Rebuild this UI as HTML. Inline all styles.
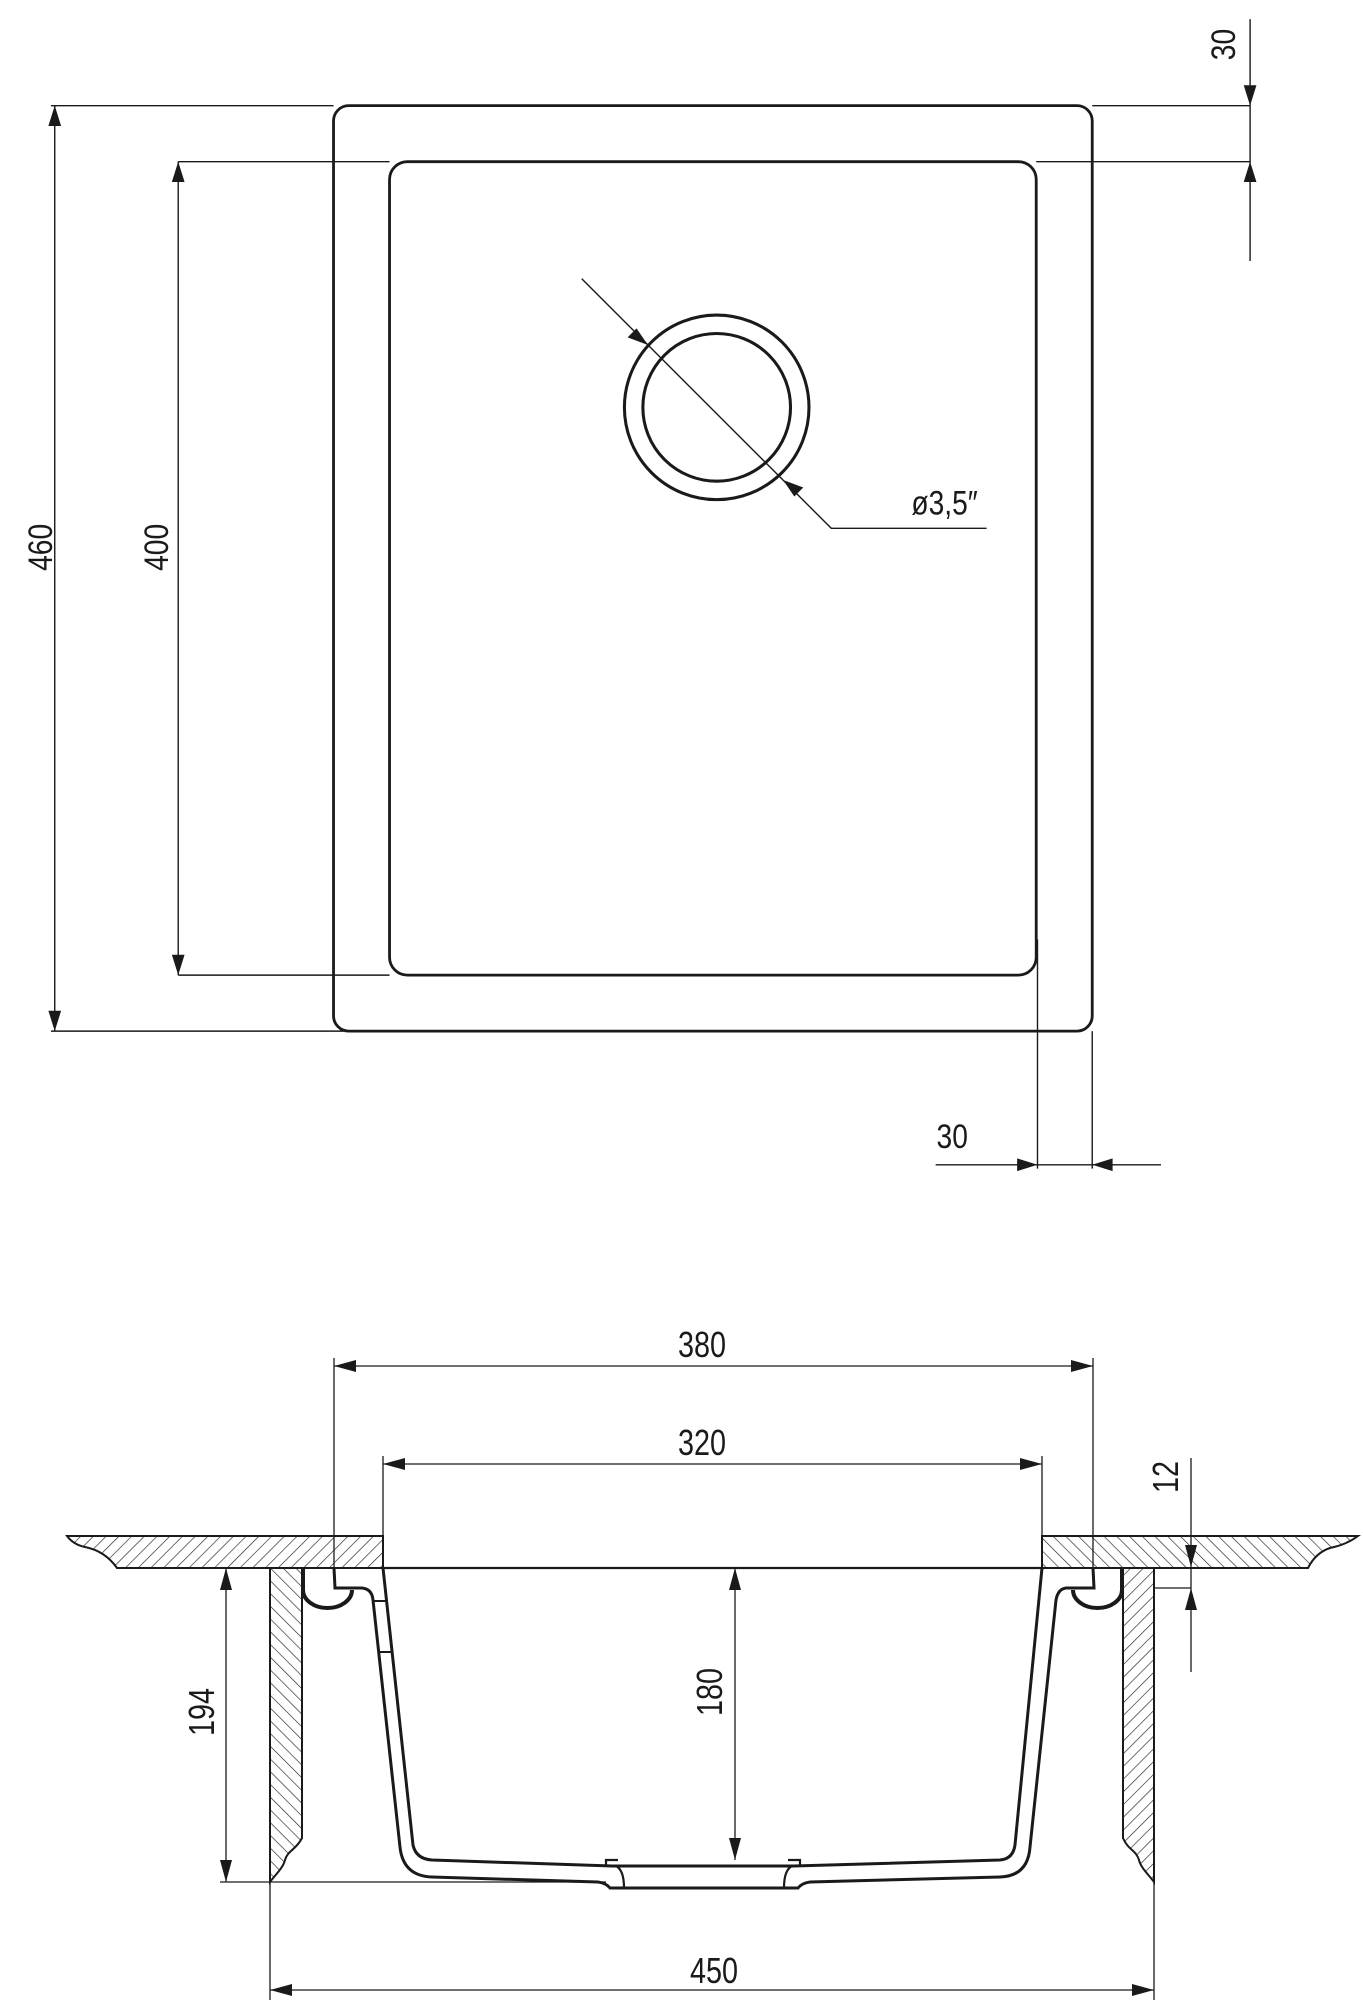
<!DOCTYPE html>
<html><head><meta charset="utf-8"><style>html,body{margin:0;padding:0;background:#fff}svg{display:block}</style></head>
<body>
<svg width="1363" height="2000" viewBox="0 0 1363 2000" xmlns="http://www.w3.org/2000/svg">
<defs>
<pattern id="hf" patternUnits="userSpaceOnUse" width="9" height="9" patternTransform="rotate(45)"><line x1="0" y1="0" x2="0" y2="9" stroke="#222" stroke-width="1.3"/></pattern>
<pattern id="hb" patternUnits="userSpaceOnUse" width="9" height="9" patternTransform="rotate(-45)"><line x1="0" y1="0" x2="0" y2="9" stroke="#222" stroke-width="1.3"/></pattern>
</defs>
<g font-family="'Liberation Sans Narrow','Liberation Sans',sans-serif" fill="#1a1a1a">
<!-- TOP VIEW -->
<g transform="scale(1.273)">
<g fill="none" stroke="#1a1a1a">
<rect x="262" y="83" width="596" height="727" rx="12" stroke-width="2.2"/>
<rect x="306" y="127" width="508" height="639" rx="14" stroke-width="2.2"/>
<circle cx="563" cy="320" r="72.5" stroke-width="2.4"/>
<circle cx="563" cy="320" r="58" stroke-width="2.4"/>
<path d="M457,219 L653,415 L775,415" stroke-width="1.1"/>
<path d="M43,83 V810 M40,83 H262 M40,810 H270 M140,127 V766 M140,127 H306 M140,766 H306" stroke-width="1.1"/>
<path d="M982,15 V205 M858,83 H982 M814,127 H982" stroke-width="1.1"/>
<path d="M735,915 H912 M815,738 V918 M858,810 V918" stroke-width="1.1"/>
</g>
<path d="M43,83 l-5,16 h10z M43,810 l-5,-16 h10z M140,127 l-5,16 h10z M140,766 l-5,-16 h10z"/>
<path d="M982,83 l-5,-16 h10z M982,127 l-5,16 h10z M815,915 l-16,-5 v10z M858,915 l16,-5 v10z"/>
<path d="M509,271 l-16,-6 l7,-7z M615,377 l16,6 l-7,7z"/>
<text transform="translate(742,404) scale(0.82,1)" font-size="27" text-anchor="middle">ø3,5″</text>
<text transform="translate(41,430) rotate(-90) scale(0.82,1)" font-size="27" text-anchor="middle">460</text>
<text transform="translate(132,430) rotate(-90) scale(0.82,1)" font-size="27" text-anchor="middle">400</text>
<text transform="translate(970,35) rotate(-90) scale(0.82,1)" font-size="27" text-anchor="middle">30</text>
<text transform="translate(748,902) scale(0.82,1)" font-size="27" text-anchor="middle">30</text>
</g>

<!-- SECTION -->
<g stroke="#1a1a1a" stroke-width="2">
<path d="M67,1536 L383,1536 L383,1568 L117,1568 C110,1558 100,1550 85,1547 C75,1545 70,1540 67,1536 Z" fill="url(#hf)"/>
<path d="M1042,1536 L1358,1536 C1350,1542 1340,1546 1330,1548 C1318,1552 1312,1560 1308,1568 L1042,1568 Z" fill="url(#hb)"/>
<path d="M270,1568 L302,1568 L302,1838 C296,1850 288,1850 285,1860 C283,1868 276,1874 270,1882 Z" fill="url(#hb)"/>
<path d="M1123,1568 L1154,1568 L1154,1882 C1148,1874 1141,1868 1139,1860 C1136,1850 1128,1850 1123,1838 Z" fill="url(#hf)"/>
</g>
<g fill="none" stroke="#1a1a1a">
<path d="M383,1568 H1042" stroke-width="2.2"/>
<path d="M334,1568 L335,1588 L362,1588 Q372,1589 373,1600 L400,1847 Q403,1876 432,1877 L598,1882 Q606,1883 610,1888 L798,1888 Q802,1883 810,1882 L1000,1877 Q1028,1876 1030,1847 L1056,1600 Q1058,1589 1066,1588 L1094,1588 L1093,1568" stroke-width="3"/>
<path d="M383,1568 L413,1845 Q416,1859 432,1860 L612,1866 L794,1866 L1000,1860 Q1013,1859 1015,1845 L1042,1568" stroke-width="3"/>
<path d="M616,1866 Q624,1870 624,1888 M792,1866 Q784,1870 784,1888 M606,1866 v-6 h12 M800,1866 v-6 h-12" stroke-width="2.2"/>
<path d="M373,1601 L387,1601 M379,1652 L392,1652" stroke-width="2"/>
<path d="M303,1568 L303,1590 A24.5,18 0 0 0 352,1590" stroke-width="4"/>
<path d="M1073,1590 A24.5,18 0 0 0 1122,1590 L1122,1568" stroke-width="4"/>
<!-- dims -->
<path d="M334,1358 V1568 M1093,1358 V1568 M334,1366 H1093 M383,1456 V1568 M1042,1456 V1568 M383,1464 H1042" stroke-width="1.3"/>
<path d="M735,1568 V1860 M226,1568 V1882 M220,1882 H606 M270,1882 V2000 M1154,1882 V2000 M270,1990 H1154" stroke-width="1.3"/>
<path d="M1191,1458 V1672 M1154,1588 H1191" stroke-width="1.3"/>
</g>
<path d="M334,1366 l22,-6 v12z M1093,1366 l-22,-6 v12z M383,1464 l22,-6 v12z M1042,1464 l-22,-6 v12z"/>
<path d="M735,1568 l-6,22 h12z M735,1860 l-6,-22 h12z M226,1568 l-6,22 h12z M226,1882 l-6,-22 h12z M270,1990 l22,-6 v12z M1154,1990 l-22,-6 v12z"/>
<path d="M1191,1567 l-6,-22 h12z M1191,1588 l-6,22 h12z"/>
<text transform="translate(702,1357) scale(0.8,1)" font-size="36" text-anchor="middle">380</text>
<text transform="translate(702,1455) scale(0.8,1)" font-size="36" text-anchor="middle">320</text>
<text transform="translate(714,1983) scale(0.8,1)" font-size="36" text-anchor="middle">450</text>
<text transform="translate(722,1692) rotate(-90) scale(0.8,1)" font-size="36" text-anchor="middle">180</text>
<text transform="translate(214,1712) rotate(-90) scale(0.8,1)" font-size="36" text-anchor="middle">194</text>
<text transform="translate(1178,1477) rotate(-90) scale(0.8,1)" font-size="36" text-anchor="middle">12</text>
</g>
</svg>
</body></html>
